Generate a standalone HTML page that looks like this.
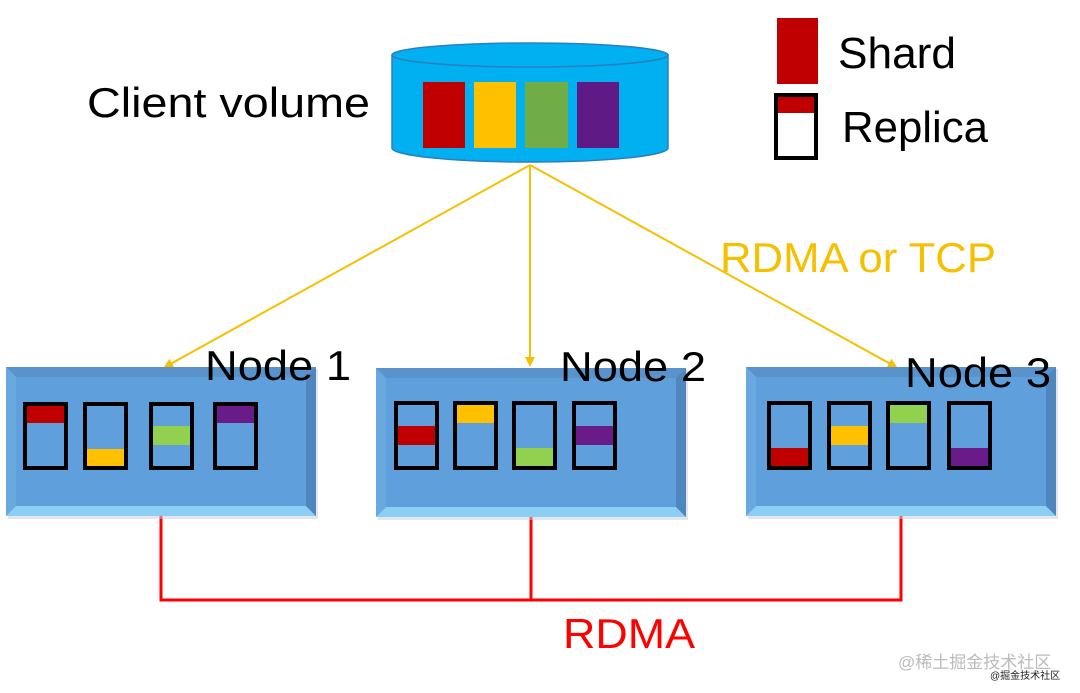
<!DOCTYPE html>
<html><head><meta charset="utf-8"><style>
html,body{margin:0;padding:0;background:#fff;width:1080px;height:693px;overflow:hidden}
svg text{font-family:"Liberation Sans","Noto Sans CJK SC",sans-serif}
</style></head><body>
<svg width="1080" height="693" viewBox="0 0 1080 693" xmlns="http://www.w3.org/2000/svg">
<defs>
<marker id="ah" markerWidth="10" markerHeight="10" refX="8" refY="5" orient="auto" markerUnits="userSpaceOnUse">
<path d="M0,0 L10,5 L0,10 z" fill="#f5c000"/></marker>
<g id="bev">
</g>
</defs>
<!-- cylinder -->
<path d="M392,55 L392,148 A138,14 0 0 0 668,148 L668,55 Z" fill="#00b0f0" stroke="#2a7fbf" stroke-width="1.5"/>
<ellipse cx="530" cy="55" rx="138" ry="12" fill="#00b0f0" stroke="#2a7fbf" stroke-width="1.5"/>
<rect x="423" y="82" width="42" height="66" fill="#c00000"/>
<rect x="474" y="82" width="42" height="66" fill="#ffc000"/>
<rect x="525" y="82" width="43" height="66" fill="#70ad47"/>
<rect x="577" y="82" width="42" height="66" fill="#5f1a85"/>
<text x="87" y="117" font-size="42" textLength="283" lengthAdjust="spacingAndGlyphs">Client volume</text>
<!-- legend -->
<rect x="777" y="18" width="41" height="66" fill="#c00000"/>
<rect x="776" y="95" width="40" height="63" fill="#fff" stroke="#000" stroke-width="4"/>
<rect x="778" y="97" width="36" height="16" fill="#c00000"/>
<text x="838" y="68" font-size="44" textLength="118" lengthAdjust="spacingAndGlyphs">Shard</text>
<text x="842" y="142" font-size="44" textLength="146" lengthAdjust="spacingAndGlyphs">Replica</text>
<!-- arrows -->
<g stroke="#f5c000" stroke-width="2" fill="none">
<line x1="530" y1="165" x2="165" y2="367" marker-end="url(#ah)"/>
<line x1="530" y1="165" x2="530" y2="365" marker-end="url(#ah)"/>
<line x1="530" y1="165" x2="896" y2="367" marker-end="url(#ah)"/>
</g>
<text x="720" y="272" font-size="42" fill="#f5c000" textLength="276" lengthAdjust="spacingAndGlyphs">RDMA or TCP</text>
<!-- red lines -->
<g stroke="#ff0000" stroke-width="3" fill="none">
<polyline points="161,516 161,600 901,600 901,516"/>
<line x1="531" y1="516" x2="531" y2="600"/>
</g>
<text x="563" y="648" font-size="42" fill="#ff0000" textLength="132" lengthAdjust="spacingAndGlyphs">RDMA</text>
<!-- nodes -->
<g id="n1">
<rect x="8" y="369" width="310" height="150" fill="#ccd" opacity="0.5"/>
<rect x="6" y="367" width="310" height="149" fill="#5f9fdc"/>
<polygon points="6,367 316,367 306,377 16,377" fill="#5a93cc"/>
<polygon points="6,516 316,516 306,506 16,506" fill="#8ccff5"/>
<polygon points="6,367 16,377 16,506 6,516" fill="#6aa8e0"/>
<polygon points="316,367 306,377 306,506 316,516" fill="#4f86bd"/>
</g>
<use href="#n1" x="370" y="1"/>
<use href="#n1" x="740" y="0"/>
<text x="205" y="380" font-size="42" textLength="146" lengthAdjust="spacingAndGlyphs">Node 1</text>
<text x="560" y="381" font-size="42" textLength="146" lengthAdjust="spacingAndGlyphs">Node 2</text>
<text x="905" y="387" font-size="42" textLength="146" lengthAdjust="spacingAndGlyphs">Node 3</text>
<!-- cells -->
<g stroke="#000" stroke-width="4" fill="none">
<rect x="25" y="404" width="41" height="64"/><rect x="85" y="404" width="41" height="64"/><rect x="151" y="404" width="41" height="64"/><rect x="215" y="404" width="41" height="64"/>
<rect x="396" y="403" width="41" height="65"/><rect x="455" y="403" width="41" height="65"/><rect x="514" y="403" width="41" height="65"/><rect x="574" y="403" width="41" height="65"/>
<rect x="769" y="403" width="41" height="65"/><rect x="829" y="403" width="41" height="65"/><rect x="888" y="403" width="41" height="65"/><rect x="949" y="403" width="41" height="65"/>
</g>
<g>
<rect x="27" y="406" width="37" height="17" fill="#c00000"/>
<rect x="87" y="449" width="37" height="17" fill="#ffc000"/>
<rect x="153" y="426" width="37" height="19" fill="#92d050"/>
<rect x="217" y="406" width="37" height="17" fill="#6a1b8a"/>
<rect x="398" y="426" width="37" height="19" fill="#c00000"/>
<rect x="457" y="405" width="37" height="18" fill="#ffc000"/>
<rect x="516" y="448" width="37" height="18" fill="#92d050"/>
<rect x="576" y="426" width="37" height="19" fill="#6a1b8a"/>
<rect x="771" y="448" width="37" height="18" fill="#c00000"/>
<rect x="831" y="426" width="37" height="19" fill="#ffc000"/>
<rect x="890" y="405" width="37" height="18" fill="#92d050"/>
<rect x="951" y="448" width="37" height="18" fill="#6a1b8a"/>
</g>
<text x="898" y="668" font-size="17" fill="#bbb">@稀土掘金技术社区</text>
<text x="990" y="679" font-size="10" fill="#222">@掘金技术社区</text>
</svg>
</body></html>
